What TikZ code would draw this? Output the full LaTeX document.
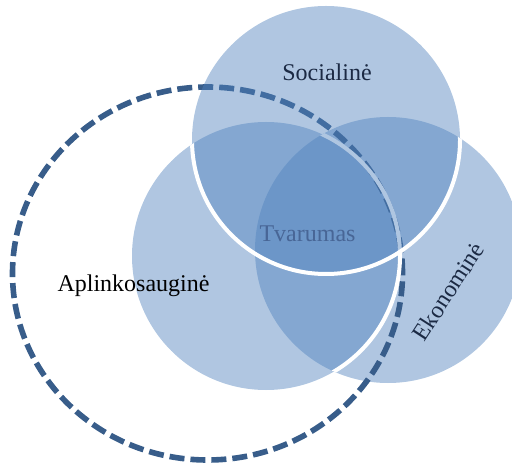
\documentclass[tikz,border=0pt]{standalone}
\usepackage{fontspec}
\setmainfont{Liberation Serif}
\definecolor{SetClr}{RGB}{79,129,189}
\definecolor{RingClr}{RGB}{56,93,138}
\definecolor{NameClr}{RGB}{28,42,68}
\definecolor{CoreClr}{RGB}{72,102,150}

\begin{document}
\begin{tikzpicture}[x=.5pt,y=.5pt,
  set/.style={fill=SetClr,fill opacity=.45},
  rim/.style={draw=white,line width=2pt},
  ring/.style={draw=RingClr,line width=2.8pt,dash pattern=on 7.5pt off 3pt},
  setlabel/.style={font=\fontsize{12}{14}\selectfont,inner sep=0pt}]
\useasboundingbox (0,0) rectangle (512,465);

\coordinate (E) at (388,215);
\coordinate (A) at (266,209);
\coordinate (S) at (326,325);
\coordinate (R) at (207.5,191.5);

\fill[set] (E) circle[radius=133];
\fill[set] (A) circle[radius=134];

\draw[ring] (R) ellipse[x radius=195,y radius=186.5];

% white edge of the left set, only over the right one
\begin{scope}
\clip (E) circle[radius=133];
\draw[rim] (A) circle[radius=134];
\end{scope}

\fill[set] (S) circle[radius=134];

\begin{scope}
\clip (E) circle[radius=133] (A) circle[radius=134];
\draw[rim] (S) circle[radius=134];
\end{scope}

\node[setlabel,text=NameClr,anchor=base] (soc) at (327,384) {Socialinė};
\node[setlabel,text=CoreClr,anchor=base] (tva) at (307.5,223.3) {Tvarumas};
\node[setlabel,text=black,anchor=base] (apl) at (133.5,173.3) {Aplinkosauginė};
\node[setlabel,text=NameClr,rotate=57] (eko) at (448,173.5) {Ekonominė};

\end{tikzpicture}
\end{document}
